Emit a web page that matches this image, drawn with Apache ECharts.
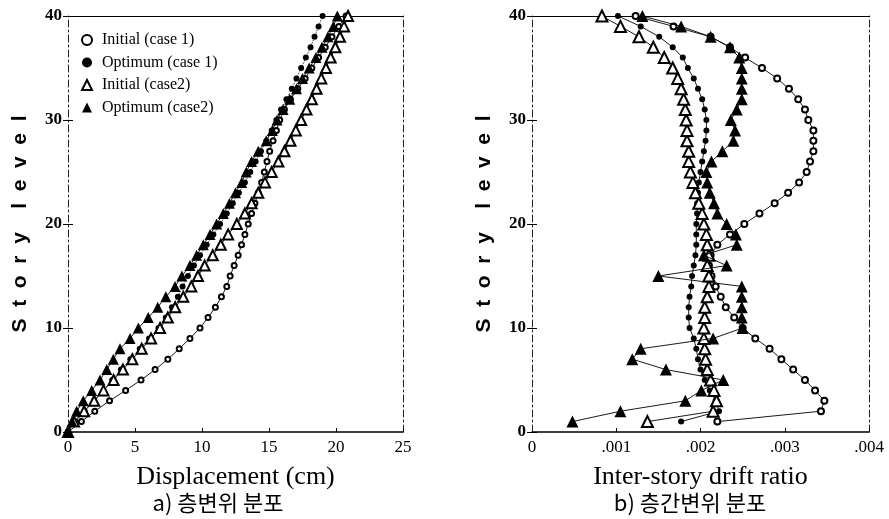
<!DOCTYPE html>
<html><head><meta charset="utf-8">
<script src="https://cdn.jsdelivr.net/npm/echarts@6/dist/echarts.min.js"></script>
<style>html,body{margin:0;padding:0;background:#fff}#c{width:889px;height:519px}</style>
</head><body><div id="c"></div>
<script>
// ---------- data ----------
const storiesDisp = [0,1,2,3,4,5,6,7,8,9,10,11,12,13,14,15,16,17,18,19,20,21,22,23,24,25,26,27,28,29,30,31,32,33,34,35,36,37,38,39,40];
const storiesDrift = [1,2,3,4,5,6,7,8,9,10,11,12,13,14,15,16,17,18,19,20,21,22,23,24,25,26,27,28,29,30,31,32,33,34,35,36,37,38,39,40];

// Displacement (cm), story 0..40
const initCase1Disp = [0,1.0,2.0,3.1,4.3,5.45,6.5,7.45,8.3,9.1,9.85,10.45,11.0,11.45,11.85,12.1,12.4,12.7,12.95,13.2,13.45,13.7,13.95,14.2,14.45,14.65,14.85,15.05,15.3,15.55,15.8,16.15,16.6,17.15,17.7,18.2,18.7,19.2,19.7,20.2,20.75];
const optCase1Disp  = [0,0.55,1.25,1.95,2.65,3.3,3.95,4.65,5.35,6.05,6.75,7.3,7.75,8.2,8.55,8.95,9.4,9.85,10.35,10.85,11.35,11.85,12.3,12.75,13.2,13.6,14.0,14.4,14.8,15.2,15.55,15.9,16.3,16.7,17.05,17.4,17.75,18.1,18.4,18.7,19.0];
const initCase2Disp = [0,0.45,1.2,1.95,2.65,3.4,4.1,4.8,5.5,6.2,6.87,7.45,8.0,8.6,9.2,9.7,10.2,10.8,11.4,11.95,12.6,13.2,13.7,14.2,14.7,15.2,15.7,16.15,16.6,17.0,17.4,17.8,18.2,18.55,18.9,19.25,19.6,19.95,20.3,20.6,20.9];
const optCase2Disp  = [0,0.3,0.65,1.14,1.77,2.39,2.89,3.38,3.88,4.63,5.25,5.99,6.7,7.3,7.99,8.5,9.1,9.6,10.1,10.6,11.09,11.59,12.05,12.5,12.96,13.3,13.7,14.2,14.8,15.25,15.6,16.05,16.55,17.05,17.5,18.0,18.5,18.95,19.4,19.8,20.1];

// Inter-story drift ratio, story 1..40
const initCase1Drift = [0.0022,0.00343,0.00347,0.00336,0.00324,0.0031,0.00296,0.00282,0.00265,0.0025,0.0024,0.0023,0.00224,0.00218,0.00213,0.0021,0.00212,0.0022,0.00235,0.00252,0.0027,0.00288,0.00304,0.00317,0.00326,0.0033,0.00334,0.00334,0.00334,0.00328,0.00324,0.00316,0.00305,0.00291,0.00273,0.00253,0.00235,0.00212,0.00168,0.00123];
const optCase1Drift  = [0.00177,0.00222,0.00218,0.00211,0.00205,0.002,0.00197,0.00195,0.00192,0.00187,0.00186,0.00186,0.00187,0.00189,0.0019,0.00192,0.00194,0.00195,0.00195,0.00195,0.00196,0.00196,0.00197,0.00198,0.002,0.00202,0.00204,0.00206,0.00207,0.00207,0.00205,0.00202,0.00197,0.00192,0.00185,0.00179,0.00167,0.00151,0.00129,0.00102];
const initCase2Drift = [0.00137,0.00215,0.00219,0.00216,0.00212,0.00208,0.00206,0.00205,0.00204,0.00204,0.00205,0.00205,0.00208,0.0021,0.0021,0.00208,0.0021,0.00208,0.00207,0.00204,0.00202,0.00198,0.00194,0.00191,0.00188,0.00186,0.00186,0.00184,0.00184,0.00183,0.00182,0.0018,0.00177,0.00173,0.00167,0.00157,0.00144,0.00127,0.00105,0.00083];
const optCase2Drift  = [0.00048,0.00105,0.00182,0.00201,0.00227,0.00159,0.00119,0.00129,0.00215,0.0025,0.00249,0.00249,0.00249,0.00249,0.0015,0.00231,0.00204,0.00243,0.00242,0.00231,0.0022,0.00216,0.00211,0.00208,0.00207,0.00213,0.00226,0.00239,0.00241,0.00236,0.00243,0.00249,0.00249,0.00249,0.00249,0.00246,0.00235,0.00212,0.00177,0.00131];

const driftLimit = 0.0025;
const seriesNames = ['Initial (case 1)','Optimum (case 1)','Initial (case2)','Optimum (case2)'];
const dispTicks = {min:0, max:25, interval:5};
const driftTicks = {min:0, max:0.004, interval:0.001};
const storyTicks = {min:0, max:40, interval:10};

// ---------- chart ----------
const serif = 'Liberation Serif';
const pair = (xs, ys) => ys.map((s, i) => [xs[i], s]);
const dashDot = [7,3,2,3];

function mainX(gi, t, name, fmt) {
  return {gridIndex:gi, type:'value', min:t.min, max:t.max, interval:t.interval, position:'bottom',
    axisLine:{show:true, onZero:false, lineStyle:{color:'#000', width:1.5}},
    axisTick:{show:true, inside:true, length:4, lineStyle:{color:'#000'}},
    axisLabel:{fontFamily:serif, fontSize:17, color:'#000', margin:7, formatter:fmt},
    splitLine:{show:false},
    name:name, nameLocation:'middle', nameGap:32,
    nameTextStyle:{fontFamily:serif, fontSize:26, color:'#000'}};
}
function topX(gi, t) {
  return {gridIndex:gi, type:'value', min:t.min, max:t.max, interval:t.interval, position:'top',
    axisLine:{show:true, onZero:false, lineStyle:{color:'#000', width:1.2}},
    axisTick:{show:false}, axisLabel:{show:false}, splitLine:{show:false}};
}
function mainY(gi) {
  return {gridIndex:gi, type:'value', min:storyTicks.min, max:storyTicks.max, interval:storyTicks.interval, position:'left',
    axisLine:{show:true, onZero:false, lineStyle:{color:'#222', width:1, type:dashDot}},
    axisTick:{show:true, length:5, lineStyle:{color:'#000'}},
    axisLabel:{fontFamily:serif, fontWeight:'bold', fontSize:17, color:'#000', margin:6},
    splitLine:{show:false},
    name:'S  t  o  r  y    l  e  v  e  l', nameLocation:'middle', nameGap:37, nameRotate:90,
    nameTextStyle:{fontFamily:'Liberation Sans', fontWeight:'bold', fontSize:21, color:'#000'}};
}
function innerTickY(gi) {
  return {gridIndex:gi, type:'value', min:storyTicks.min, max:storyTicks.max, interval:storyTicks.interval, position:'left',
    axisLine:{show:false}, axisTick:{show:true, inside:true, length:5, lineStyle:{color:'#000'}},
    axisLabel:{show:false}, splitLine:{show:false}};
}
function rightY(gi) {
  return {gridIndex:gi, type:'value', min:storyTicks.min, max:storyTicks.max, interval:storyTicks.interval, position:'right',
    axisLine:{show:true, onZero:false, lineStyle:{color:'#222', width:1, type:dashDot}},
    axisTick:{show:false}, axisLabel:{show:false}, splitLine:{show:false}};
}
const driftFmt = v => v === 0 ? '0' : v.toFixed(3).replace(/^0/, '');

const styles = [
  {symbol:'emptyCircle', left:{size:5, line:'solid'}, right:{size:6, line:'solid'}},
  {symbol:'circle', left:{size:6, line:'dotted'}, right:{size:6, line:'solid'}},
  {symbol:'emptyTriangle', left:{size:10, line:'solid'}, right:{size:11, line:'solid'}},
  {symbol:'triangle', left:{size:11, line:'solid'}, right:{size:12, line:'solid'}}
];
const dispData = [initCase1Disp, optCase1Disp, initCase2Disp, optCase2Disp];
const driftData = [initCase1Drift, optCase1Drift, initCase2Drift, optCase2Drift];

const series = [];
seriesNames.forEach((nm, k) => {
  const st = styles[k];
  series.push({name:nm, type:'line', xAxisIndex:0, yAxisIndex:0, data:pair(dispData[k], storiesDisp),
    symbol:st.symbol, symbolSize:st.left.size, showAllSymbol:true,
    itemStyle:{color:'#000', borderWidth:1}, lineStyle:{color:'#000', width:0.9, type:st.left.line},
    z: 10 + k});
  const s2 = {name:nm, type:'line', xAxisIndex:1, yAxisIndex:1, data:pair(driftData[k], storiesDrift),
    symbol:st.symbol, symbolSize:st.right.size, showAllSymbol:true,
    itemStyle:{color:'#000', borderWidth:1}, lineStyle:{color:'#000', width:0.9, type:st.right.line},
    z: 10 + k};
  if (k === 3) {
    s2.markLine = {silent:true, symbol:'none', label:{show:false}, animation:false,
      lineStyle:{color:'#222', width:1, type:dashDot}, data:[{xAxis:driftLimit}]};
  }
  series.push(s2);
});

const chart = echarts.init(document.getElementById('c'), null, {renderer:'canvas'});
chart.setOption({
  animation:false,
  backgroundColor:'#fff',
  grid:[
    {left:68, top:16, width:335, height:416},
    {left:532, top:16, width:337, height:416}
  ],
  xAxis:[mainX(0, dispTicks, 'Displacement (cm)'), mainX(1, driftTicks, 'Inter-story drift ratio', driftFmt), topX(0, dispTicks), topX(1, driftTicks)],
  yAxis:[mainY(0), mainY(1), rightY(0), rightY(1), innerTickY(0), innerTickY(1)],
  legend:{orient:'vertical', left:76, top:27, itemGap:6.5, itemWidth:10, itemHeight:10,
    textStyle:{fontFamily:serif, fontSize:16, color:'#000', padding:[0,0,0,5]},
    data:[{name:seriesNames[0], icon:'emptyCircle'},{name:seriesNames[1], icon:'circle'},{name:seriesNames[2], icon:'emptyTriangle'},{name:seriesNames[3], icon:'triangle'}]},
  graphic:[
    {type:'text', x:218, y:503, style:{text:'a) 층변위 분포', font:'22px "Noto Sans CJK KR"', fill:'#000', align:'center', verticalAlign:'middle'}},
    {type:'text', x:690, y:503, style:{text:'b) 층간변위 분포', font:'22px "Noto Sans CJK KR"', fill:'#000', align:'center', verticalAlign:'middle'}}
  ],
  series:series
});
</script></body></html>
